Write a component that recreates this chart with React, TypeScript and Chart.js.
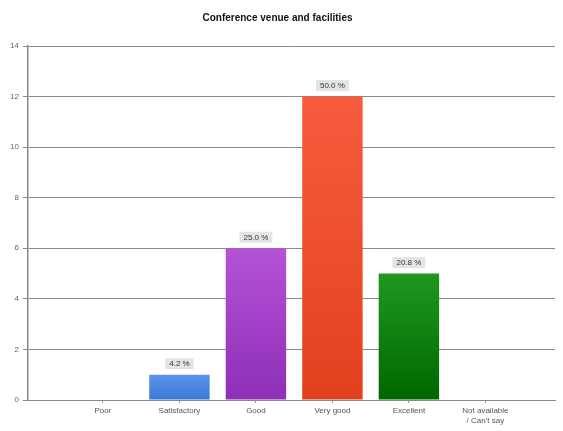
import React, { useEffect, useRef } from "react";
import { Chart, registerables } from "chart.js";

Chart.register(...registerables);

const categories: string[][] = [["Poor"], ["Satisfactory"], ["Good"], ["Very good"], ["Excellent"], ["Not available", "/ Can't say"]];
const counts: number[] = [0, 1, 6, 12, 5, 0];
const percentLabels: string[] = ["", "4.2 %", "25.0 %", "50.0 %", "20.8 %", ""];
const topColors: string[] = ["#5a95e8", "#5a95e8", "#b552d6", "#f75c3e", "#1f981f", "#999999"];
const bottomColors: string[] = ["#3b79da", "#3b79da", "#8e2fb8", "#e2401f", "#006600", "#777777"];
const yTicks: number[] = [0, 2, 4, 6, 8, 10, 12, 14];

const labelPlugin = {
  id: "pctLabels",
  afterDatasetsDraw(chart: any) {
    const ctx = chart.ctx;
    const meta = chart.getDatasetMeta(0);
    ctx.save();
    ctx.font = "8px 'Liberation Sans', Arial, sans-serif";
    ctx.textAlign = "center";
    ctx.textBaseline = "middle";
    meta.data.forEach((bar: any, i: number) => {
      const txt = percentLabels[i];
      if (!txt) return;
      const w = ctx.measureText(txt).width + 8;
      const h = 11;
      const cx = bar.x;
      const cy = bar.y - 11;
      ctx.fillStyle = "#e4e4e4";
      ctx.fillRect(cx - w / 2, cy - h / 2, w, h);
      ctx.fillStyle = "#333333";
      ctx.fillText(txt, cx, cy + 0.5);
    });
    ctx.restore();
  },
};

export default function App() {
  const ref = useRef<HTMLCanvasElement>(null);
  useEffect(() => {
    const canvas = ref.current!;
    const data = counts.map((v, i) => ({ x: i, y: v }));
    const chart = new Chart(canvas, {
      type: "bar",
      data: {
        datasets: [
          {
            data,
            backgroundColor: (c: any) => {
              const i = c.dataIndex ?? 0;
              const area = c.chart.chartArea;
              const ys = c.chart.scales && c.chart.scales.y;
              if (!area || !ys) return topColors[i];
              const top = ys.getPixelForValue(counts[i]);
              if (!Number.isFinite(top) || !Number.isFinite(area.bottom) || top >= area.bottom) return topColors[i];
              const g = c.chart.ctx.createLinearGradient(0, top, 0, area.bottom);
              g.addColorStop(0, topColors[i]);
              g.addColorStop(1, bottomColors[i]);
              return g;
            },
            barPercentage: 0.79,
            categoryPercentage: 1,
          } as any,
        ],
      },
      options: {
        animation: false,
        responsive: false,
        layout: { padding: { left: 0, right: 8, top: 0, bottom: 0 } },
        plugins: {
          legend: { display: false },
          tooltip: { enabled: false },
          title: {
            display: true,
            text: "Conference venue and facilities",
            color: "#111",
            font: { size: 10, weight: "bold", family: "'Liberation Sans', Arial, sans-serif", lineHeight: 1.2 },
            padding: { top: 12, bottom: 22 },
          },
        },
        scales: {
          x: {
            type: "linear",
            min: -0.98,
            max: 5.91,
            offset: false,
            afterBuildTicks: (s: any) => {
              s.ticks = categories.map((_, i) => ({ value: i }));
            },
            afterFit: (s: any) => {
              s.height = 31;
            },
            ticks: {
              autoSkip: false,
              maxRotation: 0,
              color: "#555",
              padding: 3,
              font: { size: 8, family: "'Liberation Sans', Arial, sans-serif", lineHeight: 1.25 },
              callback: (v: any) => categories[Math.round(Number(v))] ?? "",
            },
            grid: { display: true, offset: false, drawOnChartArea: false, drawTicks: true, tickLength: 3, color: "#999" },
            border: { display: true, color: "#888", width: 1 },
          },
          y: {
            min: 0,
            max: 14,
            afterBuildTicks: (s: any) => {
              s.ticks = yTicks.map((v) => ({ value: v }));
            },
            afterFit: (s: any) => {
              s.width = 28;
            },
            ticks: {
              color: "#666",
              padding: 4,
              font: { size: 8, family: "'Liberation Sans', Arial, sans-serif" },
            },
            grid: { color: "#888", lineWidth: 1, tickLength: 5 },
            border: { display: true, color: "#888", width: 1.5 },
          },
        },
      } as any,
      plugins: [labelPlugin],
    });
    return () => chart.destroy();
  }, []);
  return (
    <div style={{ position: "fixed", left: 0, top: 0, width: 563, height: 431, background: "#fff" }}>
      <canvas ref={ref} width={563} height={431} style={{ width: 563, height: 431 }} />
    </div>
  );
}
